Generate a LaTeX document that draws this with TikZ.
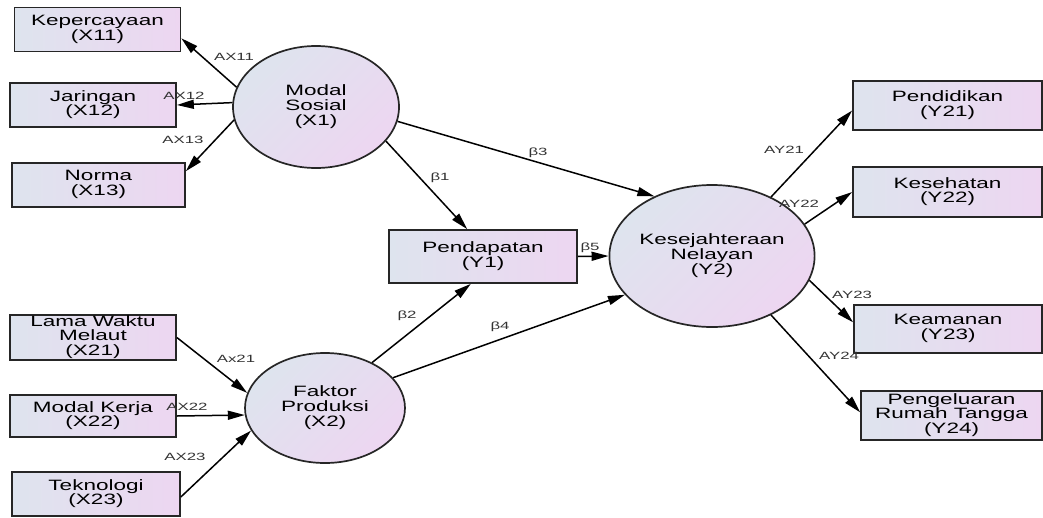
\documentclass[tikz,border=0pt]{standalone}
\usepackage{fontspec}
\setmainfont{Liberation Sans}
\usepackage{graphicx}
\usetikzlibrary{arrows.meta,shapes.geometric}
\definecolor{lgray}{RGB}{222,228,238}
\definecolor{lpink}{RGB}{237,214,241}
% stretched text, as in the original figure
\newcommand{\wide}[1]{\scalebox{1.5}[1]{\begin{tabular}{@{}c@{}}#1\end{tabular}}}
\newcommand{\wlab}[1]{\scalebox{1.6}[1]{#1}}

\begin{document}
\begin{tikzpicture}[x=1pt,y=-1pt,
    var/.style={draw=black!85,line width=1.7pt,left color=lgray,right color=lpink,
      inner sep=0pt,minimum width=166pt,minimum height=44pt,font=\fontsize{15}{13}\selectfont},
    lat/.style={ellipse,draw=black!85,line width=1.7pt,top color=lgray,bottom color=lpink,
      shading angle=45,inner sep=0pt,font=\fontsize{15}{14.5}\selectfont},
    link/.style={line width=1.5pt,-{Triangle[length=17pt,width=9pt]}},
    coef/.style={inner sep=0pt,text=black!80,font=\fontsize{10.5}{10.5}\selectfont}]
    \useasboundingbox (0,0) rectangle (1043,517);

    % indicators of X1 and X2
    \node[var] (kep) at (97.5,29.5) {\wide{Kepercayaan\\(X11)}};
    \node[var] (jar) at (93,105) {\wide{Jaringan\\(X12)}};
    \node[var,minimum width=173pt] (nor) at (98.5,185) {\wide{Norma\\(X13)}};
    \node[var,minimum height=45pt] (lam) at (93,337.5) {\wide{Lama Waktu\\Melaut\\(X21)}};
    \node[var,minimum height=42pt] (mk) at (93,416) {\wide{Modal Kerja\\(X22)}};
    \node[var,minimum width=168pt] (tek) at (96,494) {\wide{Teknologi\\(X23)}};

    % latent variables
    \node[lat,minimum width=166pt,minimum height=122pt] (ms) at (316,107) {\wide{Modal\\Sosial\\(X1)}};
    \node[lat,minimum width=160pt,minimum height=110pt] (fp) at (325,408) {\wide{Faktor\\Produksi\\(X2)}};
    \node[lat,minimum width=174pt,minimum height=142pt] (kn) at (712,256) {\wide{Kesejahteraan\\Nelayan\\(Y2)}};
    \node[var,minimum width=188pt,minimum height=53pt] (pen) at (483,256.5) {\wide{Pendapatan\\(Y1)}};

    % indicators of Y2
    \node[var,minimum width=189pt,minimum height=49pt] (y21) at (947.5,105.5) {\wide{Pendidikan\\(Y21)}};
    \node[var,minimum width=189pt,minimum height=50pt] (y22) at (947.5,192) {\wide{Kesehatan\\(Y22)}};
    \node[var,minimum width=188pt,minimum height=48pt] (y23) at (948,329) {\wide{Keamanan\\(Y23)}};
    \node[var,minimum width=181pt,minimum height=49pt] (y24) at (951.5,415.5) {\wide{Pengeluaran\\Rumah Tangga\\(Y24)}};

    \draw[link] (ms.166) -- (kep.-6);
    \draw[link] (ms.177) -- (jar.east);
    \draw[link] (ms.-171) -- (nor.9);
    \draw[link] (lam.east) -- (fp.169);
    \draw[link] (mk.east) -- (fp.-175);
    \draw[link] (tek.-2) -- (fp.-163);
    \draw[link] (ms.-26) -- (pen.120);
    \draw[link] (ms.-10) -- (kn.134);
    \draw[link] (fp.44) -- (pen.-114);
    \draw[link] (fp.24) -- (kn.-156);
    \draw[link] (pen.east) -- (kn.west);
    \draw[link] (kn.45) -- (y21.-177);
    \draw[link] (kn.19) -- (y22.west);
    \draw[link] (kn.-14) -- (y23.176);
    \draw[link] (kn.-45) -- (y24.178);

    \node[coef] (a11) at (234,57) {\wlab{AX11}};
    \node[coef] (a12) at (184,96) {\wlab{AX12}};
    \node[coef] (a13) at (183,140) {\wlab{AX13}};
    \node[coef] (a21) at (236,359) {\wlab{Ax21}};
    \node[coef] (a22) at (187,407) {\wlab{AX22}};
    \node[coef] (a23) at (185,457) {\wlab{AX23}};
    \node[coef] (b1) at (440,178) {\wlab{β1}};
    \node[coef] (b2) at (407,316) {\wlab{β2}};
    \node[coef] (b3) at (538,153) {\wlab{β3}};
    \node[coef] (b4) at (500,327) {\wlab{β4}};
    \node[coef] (b5) at (590,248) {\wlab{β5}};
    \node[coef] (c21) at (784,150) {\wlab{AY21}};
    \node[coef] (c22) at (799,204) {\wlab{AY22}};
    \node[coef] (c23) at (852,295) {\wlab{AY23}};
    \node[coef] (c24) at (839,356) {\wlab{AY24}};
\end{tikzpicture}
\end{document}
